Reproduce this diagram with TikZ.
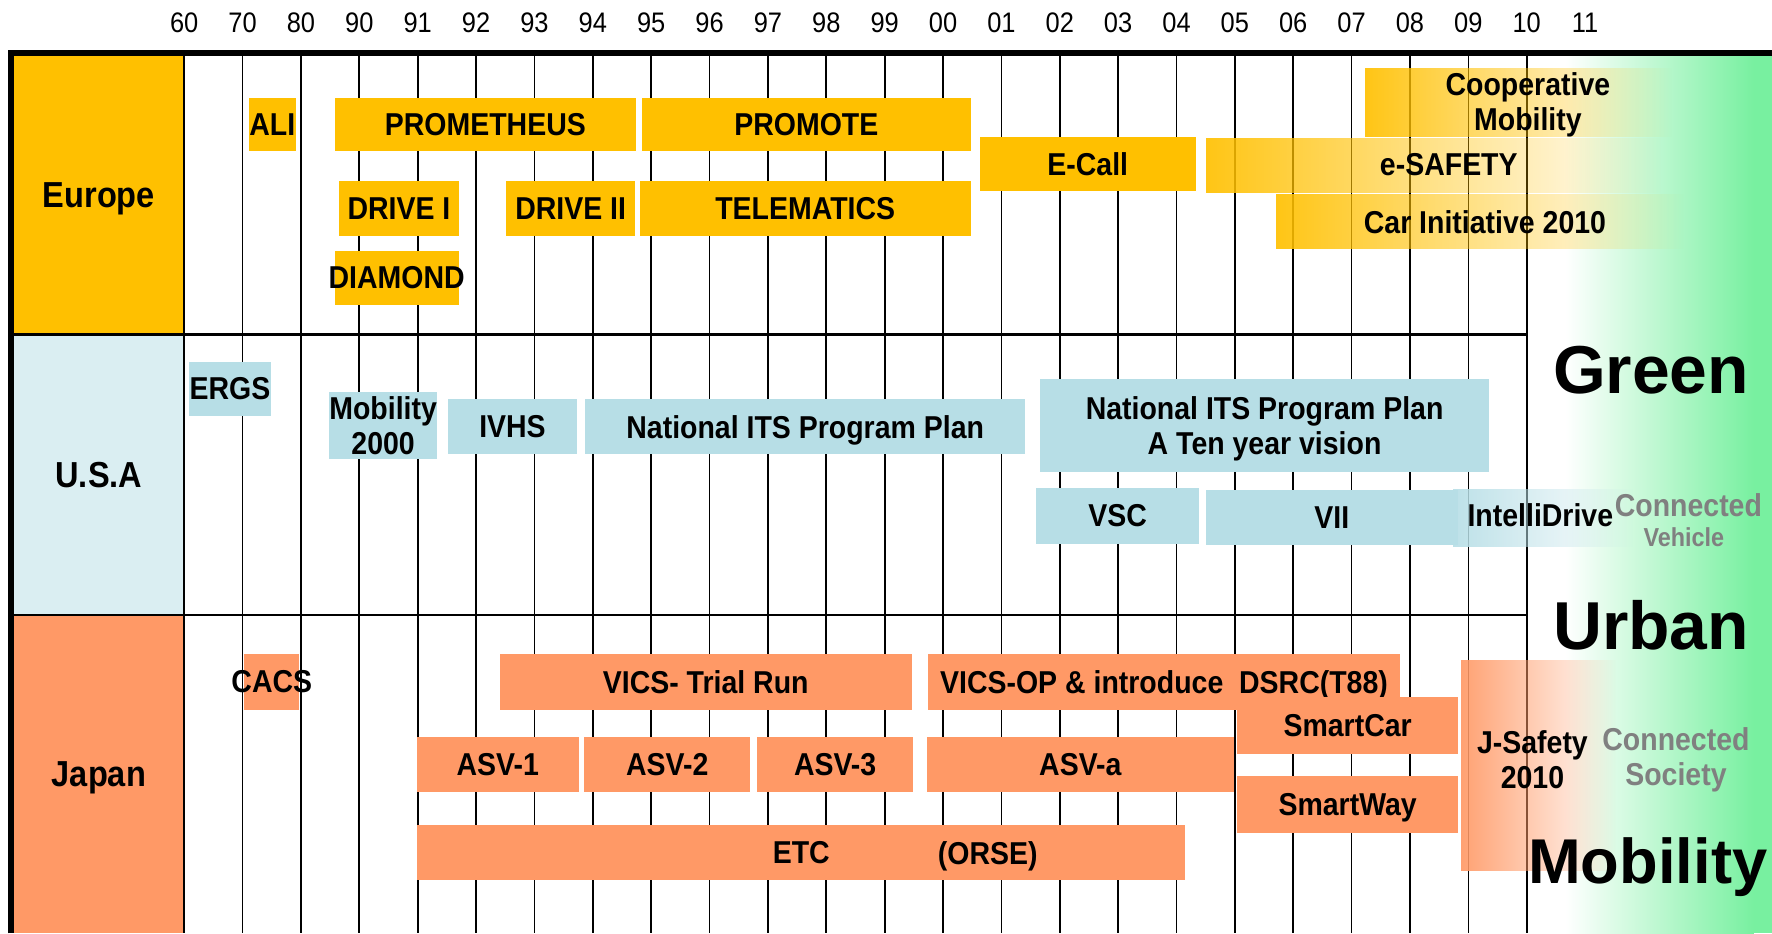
\documentclass[tikz,border=0pt]{standalone}
\usepackage{fontspec}
\setmainfont{Liberation Sans}[FakeStretch=0.9]
\newfontfamily\wideSans{Liberation Sans}
\usetikzlibrary{shapes,fadings}

\definecolor{euOrange}{RGB}{255,192,0}
\definecolor{usaBlue}{RGB}{183,222,230}
\definecolor{usaPale}{RGB}{218,238,242}
\definecolor{jpSalmon}{RGB}{255,153,102}
\definecolor{mintGreen}{RGB}{120,240,160}
\definecolor{txtGray}{RGB}{128,128,128}

\tikzfading[name=fadeEast, left color=transparent!8,
	middle color=transparent!40, right color=transparent!100]

\tikzstyle{bartext} = [rectangle, inner sep=0pt, text centered, align=center,
	font=\fontsize{28}{31}\selectfont\bfseries]
\tikzstyle{eu} = [bartext, fill=euOrange]
\tikzstyle{usa} = [bartext, fill=usaBlue]
\tikzstyle{jp} = [bartext, fill=jpSalmon]
\tikzstyle{flat} = [text depth=0pt]
\tikzstyle{region} = [rectangle, inner sep=0pt, text centered, text depth=0pt,
	font=\fontsize{32}{34}\selectfont\bfseries]
\tikzstyle{year} = [inner sep=0pt, font=\fontsize{25}{27}\selectfont]
\tikzstyle{theme} = [inner sep=0pt, anchor=base, font=\wideSans\bfseries\fontsize{60}{62}\selectfont]
\tikzstyle{grayword} = [bartext, text=txtGray]
\tikzstyle{gridline} = [draw, line width=1.5pt]
\tikzstyle{divider} = [draw, line width=2pt]
\tikzstyle{frame} = [draw, line width=5pt]

\begin{document}
\begin{tikzpicture}[x=1pt, y=-1pt]
	\useasboundingbox (0,0) rectangle (1568,826);

	% Region column
	\node [region, fill=euOrange, minimum width=151pt, minimum height=247pt] (europe) at (87.5,172.5) {Europe};
	\node [region, fill=usaPale, minimum width=151pt, minimum height=248pt] (usa) at (87.5,420) {U.S.A};
	\node [region, fill=jpSalmon, minimum width=151pt, minimum height=282pt] (japan) at (87.5,685) {Japan};

	% Green area
	\shade [left color=white, right color=mintGreen] (1385,47) rectangle (1552,826);
	\fill [mintGreen] (1552,47) rectangle (1568,826);

	% Grid
	\foreach \i in {0,...,23}
		\draw [gridline] (163+51.65*\i,47) -- (163+51.65*\i,826);
	\draw [divider] (10,296) -- (1351,296);
	\draw [divider] (10,544) -- (1351,544);
	\draw [frame] (10,826) -- (10,47) -- (1568,47);

	% Years
	\foreach \yr [count=\i from 0] in {60,70,80,90,91,92,93,94,95,96,97,98,99,00,01,02,03,04,05,06,07,08,09,10,11}
		\node [year] (yr\yr) at (163+51.65*\i,20) {\yr};

	% Europe
	\node [eu, minimum width=42pt, minimum height=47pt] (ali) at (241,110.5) {ALI};
	\node [eu, minimum width=267pt, minimum height=47pt] (prometheus) at (429.5,110.5) {PROMETHEUS};
	\node [eu, minimum width=291pt, minimum height=47pt] (promote) at (713.5,110.5) {PROMOTE};
	\node [eu, minimum width=191pt, minimum height=48pt] (ecall) at (962.5,145) {E-Call};
	\node [eu, minimum width=106pt, minimum height=49pt] (driveI) at (353,184.5) {DRIVE I};
	\node [eu, minimum width=114pt, minimum height=49pt] (driveII) at (505,184.5) {DRIVE II};
	\node [eu, minimum width=293pt, minimum height=49pt] (telematics) at (712.5,184.5) {TELEMATICS};
	\node [eu, minimum width=110pt, minimum height=48pt] (diamond) at (351,246) {\makebox[0pt]{DIAMOND}};
	\fill [euOrange, path fading=fadeEast] (1208,60) rectangle (1480,121);
	\fill [euOrange, path fading=fadeEast] (1067,122) rectangle (1470,171);
	\fill [euOrange, path fading=fadeEast] (1129,172) rectangle (1490,220);
	\node [bartext, flat] (coop) at (1352,90) {Cooperative\\Mobility};
	\node [bartext] (esafety) at (1282,146) {e-SAFETY};
	\node [bartext] (carInit) at (1314,197) {Car Initiative 2010};

	% U.S.A
	\node [usa, minimum width=73pt, minimum height=48pt] (ergs) at (203.5,344) {ERGS};
	\node [usa, minimum width=94pt, minimum height=59pt] (mob2000) at (339,376.5) {Mobility\\2000};
	\node [usa, minimum width=115pt, minimum height=49pt] (ivhs) at (453.5,377.5) {IVHS};
	\node [usa, flat, minimum width=389pt, minimum height=49pt] (itsPlan) at (712.5,377.5) {National ITS Program Plan};
	\node [usa, flat, minimum width=398pt, minimum height=82pt] (tenYear) at (1119,376.5) {National ITS Program Plan\\A Ten year vision};
	\node [usa, minimum width=144pt, minimum height=49pt] (vsc) at (989,456.5) {VSC};
	\node [usa, minimum width=223pt, minimum height=48pt] (vii) at (1178.5,458) {VII};
	\fill [usaBlue, path fading=fadeEast] (1286,433) rectangle (1445,484);
	\node [bartext] (intelli) at (1363,456) {IntelliDrive};
	\node [grayword] (connV) at (1494,447) {Connected};
	\node [grayword, font=\fontsize{23}{25}\selectfont\bfseries] (vehicle) at (1490,475) {Vehicle};

	% Japan
	\node [jp, minimum width=49pt, minimum height=49pt] (cacs) at (240.5,603.5) {\makebox[0pt]{CACS}};
	\node [jp, minimum width=365pt, minimum height=49pt] (vicsTrial) at (624.5,603.5) {VICS- Trial Run};
	\node [jp, flat, minimum width=418pt, minimum height=49pt] (vicsOp) at (1030,603.5) {VICS-OP \& introduce\ \ DSRC(T88)};
	\node [jp, minimum width=195pt, minimum height=50pt] (smartCar) at (1192.5,642) {SmartCar};
	\node [jp, minimum width=143pt, minimum height=49pt] (asv1) at (440.5,676.5) {ASV-1};
	\node [jp, minimum width=147pt, minimum height=49pt] (asv2) at (590.5,676.5) {ASV-2};
	\node [jp, minimum width=138pt, minimum height=49pt] (asv3) at (739,676.5) {ASV-3};
	\node [jp, minimum width=272pt, minimum height=49pt] (asvA) at (956,676.5) {ASV-a};
	\node [jp, flat, minimum width=195pt, minimum height=50pt] (smartWay) at (1192.5,712) {SmartWay};
	\node [jp, minimum width=680pt, minimum height=49pt] (etc) at (709,754.5) {ETC};
	\node [bartext, flat] (orse) at (874,754.5) {(ORSE)};
	\fill [jpSalmon, path fading=fadeEast] (1293,584) rectangle (1430,771);
	\node [bartext] (jSafety) at (1356,672) {J-Safety\\2010};
	\node [grayword] (connS) at (1483,672) {Connected\\Society};

	% Themes
	\node [theme] (green) at (1461,348) {Green};
	\node [theme] (urban) at (1461,575) {Urban};
	\node [theme, font=\wideSans\bfseries\fontsize{56}{58}\selectfont] (mobility) at (1458,782) {Mobility};
\end{tikzpicture}
\end{document}
